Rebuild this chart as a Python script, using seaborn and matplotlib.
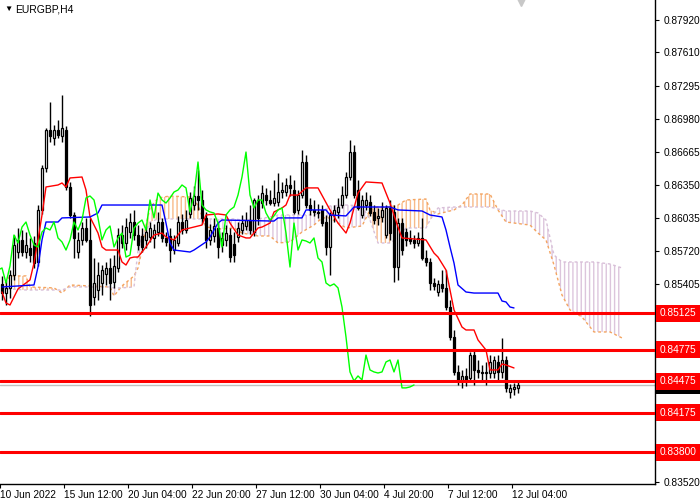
import numpy as np
import pandas as pd
import matplotlib
matplotlib.use("Agg")
import matplotlib.pyplot as plt
import seaborn as sns

symbol = "EURGBP,H4"

# H4 candles
opens = [0.85404, 0.85317, 0.85366, 0.85489, 0.85708, 0.85823, 0.85708, 0.85747, 0.85794, 0.85613,
         0.86109, 0.86509, 0.86871, 0.86795, 0.86871, 0.86814, 0.86871, 0.86328, 0.86061, 0.85708,
         0.85823, 0.85937, 0.85823, 0.85279, 0.85346, 0.85413, 0.85499, 0.85556, 0.85423, 0.85556,
         0.85870, 0.85794, 0.85899, 0.85994, 0.85870, 0.85861, 0.85823, 0.85851, 0.85842, 0.85899,
         0.85994, 0.85842, 0.85861, 0.85727, 0.85794, 0.85994, 0.85918, 0.86071, 0.86156, 0.86242,
         0.86204, 0.86033, 0.85823, 0.85861, 0.85937, 0.85775, 0.85823, 0.85870, 0.85785, 0.85851,
         0.85918, 0.85956, 0.86013, 0.85899, 0.86204, 0.86175, 0.86251, 0.86204, 0.86175, 0.86185,
         0.86280, 0.86280, 0.86347, 0.86299, 0.86109, 0.86251, 0.86566, 0.86156, 0.86109, 0.86090,
         0.86109, 0.85994, 0.85756, 0.86061, 0.86090, 0.86156, 0.86251, 0.86423, 0.86661, 0.86299,
         0.86061, 0.86156, 0.86185, 0.86090, 0.86033, 0.86042, 0.85870, 0.86128, 0.86090, 0.85565,
         0.85984, 0.85899, 0.85842, 0.85823, 0.85794, 0.85842, 0.85651, 0.85613, 0.85413, 0.85327,
         0.85404, 0.85366, 0.85184, 0.84898, 0.84565, 0.84479, 0.84527, 0.84508, 0.84726, 0.84584,
         0.84565, 0.84555, 0.84555, 0.84555, 0.84660, 0.84565, 0.84679, 0.84374, 0.84403, 0.84413]
highs = [0.85480, 0.85442, 0.85537, 0.85870, 0.85937, 0.85918, 0.85899, 0.85842, 0.85861, 0.86156,
         0.86537, 0.86890, 0.87138, 0.86918, 0.86966, 0.87205, 0.86909, 0.86376, 0.86090, 0.85899,
         0.85994, 0.86033, 0.86033, 0.85651, 0.85613, 0.85584, 0.85613, 0.85651, 0.85679, 0.85937,
         0.85965, 0.86033, 0.86080, 0.86109, 0.85965, 0.85937, 0.85956, 0.85994, 0.85975, 0.86090,
         0.86033, 0.85899, 0.85937, 0.85870, 0.86052, 0.86071, 0.86109, 0.86280, 0.86338, 0.86490,
         0.86299, 0.86090, 0.85975, 0.86033, 0.85994, 0.85899, 0.85965, 0.85937, 0.85899, 0.85994,
         0.86061, 0.86090, 0.86156, 0.86223, 0.86251, 0.86347, 0.86319, 0.86299, 0.86395, 0.86461,
         0.86376, 0.86414, 0.86442, 0.86395, 0.86299, 0.86680, 0.86632, 0.86223, 0.86204, 0.86166,
         0.86156, 0.86061, 0.86090, 0.86156, 0.86223, 0.86338, 0.86471, 0.86776, 0.86728, 0.86395,
         0.86251, 0.86280, 0.86251, 0.86156, 0.86128, 0.86185, 0.86156, 0.86204, 0.86156, 0.86033,
         0.86033, 0.85937, 0.85918, 0.85870, 0.85899, 0.86033, 0.85727, 0.85651, 0.85461, 0.85442,
         0.85537, 0.85537, 0.85251, 0.84965, 0.84631, 0.84584, 0.84603, 0.84755, 0.84774, 0.84679,
         0.84631, 0.84660, 0.84726, 0.84717, 0.84726, 0.84889, 0.84717, 0.84451, 0.84460, 0.84470]
lows = [0.85251, 0.85203, 0.85270, 0.85442, 0.85651, 0.85670, 0.85651, 0.85613, 0.85556, 0.85575,
        0.86071, 0.86471, 0.86757, 0.86728, 0.86795, 0.86757, 0.86299, 0.86033, 0.85651, 0.85651,
        0.85775, 0.85804, 0.85099, 0.85203, 0.85251, 0.85298, 0.85394, 0.85251, 0.85366, 0.85518,
        0.85747, 0.85727, 0.85842, 0.85823, 0.85727, 0.85708, 0.85747, 0.85804, 0.85747, 0.85861,
        0.85804, 0.85766, 0.85613, 0.85689, 0.85766, 0.85880, 0.85889, 0.86033, 0.86109, 0.86109,
        0.85975, 0.85747, 0.85775, 0.85804, 0.85651, 0.85708, 0.85766, 0.85613, 0.85613, 0.85804,
        0.85880, 0.85918, 0.85880, 0.85861, 0.85965, 0.86128, 0.86156, 0.86156, 0.86147, 0.86147,
        0.86223, 0.86242, 0.86242, 0.86071, 0.86071, 0.86223, 0.86128, 0.86061, 0.86052, 0.86033,
        0.85956, 0.85679, 0.85489, 0.85994, 0.86033, 0.86128, 0.86223, 0.86395, 0.86223, 0.86109,
        0.86033, 0.86109, 0.86052, 0.85975, 0.85965, 0.85994, 0.85842, 0.85823, 0.85423, 0.85442,
        0.85679, 0.85766, 0.85785, 0.85747, 0.85766, 0.85632, 0.85575, 0.85346, 0.85346, 0.85289,
        0.85327, 0.85156, 0.84870, 0.84536, 0.84441, 0.84413, 0.84432, 0.84470, 0.84441, 0.84508,
        0.84470, 0.84441, 0.84508, 0.84508, 0.84489, 0.84508, 0.84374, 0.84317, 0.84345, 0.84364]
closes = [0.85317, 0.85366, 0.85489, 0.85775, 0.85823, 0.85708, 0.85775, 0.85679, 0.85603, 0.86109,
          0.86509, 0.86871, 0.86814, 0.86871, 0.86823, 0.86890, 0.86328, 0.86061, 0.85842, 0.85823,
          0.85937, 0.85823, 0.85203, 0.85413, 0.85489, 0.85537, 0.85556, 0.85413, 0.85575, 0.85870,
          0.85794, 0.85946, 0.85994, 0.85870, 0.85775, 0.85756, 0.85899, 0.85937, 0.85918, 0.85994,
          0.85842, 0.85804, 0.85727, 0.85823, 0.85994, 0.85918, 0.86013, 0.86223, 0.86242, 0.86204,
          0.86033, 0.85823, 0.85918, 0.85956, 0.85756, 0.85842, 0.85889, 0.85660, 0.85679, 0.85937,
          0.85984, 0.86013, 0.85918, 0.86204, 0.86033, 0.86270, 0.86204, 0.86175, 0.86223, 0.86280,
          0.86299, 0.86347, 0.86319, 0.86090, 0.86251, 0.86566, 0.86156, 0.86109, 0.86090, 0.86080,
          0.85984, 0.85756, 0.86061, 0.86109, 0.86137, 0.86251, 0.86423, 0.86661, 0.86251, 0.86128,
          0.86204, 0.86204, 0.86080, 0.86013, 0.86052, 0.86109, 0.86128, 0.85889, 0.85565, 0.85984,
          0.85727, 0.85823, 0.85813, 0.85794, 0.85842, 0.85651, 0.85613, 0.85413, 0.85385, 0.85404,
          0.85366, 0.85184, 0.84898, 0.84565, 0.84479, 0.84527, 0.84489, 0.84726, 0.84584, 0.84565,
          0.84555, 0.84565, 0.84660, 0.84679, 0.84565, 0.84679, 0.84413, 0.84413, 0.84422, 0.84441]

# Ichimoku lines (vertices, x in bars)
tenkan_bar = [0, 1, 2, 4, 7, 8, 9, 10, 11, 14, 15, 16, 17, 20, 21, 22, 24, 25, 26, 29,
              30, 31, 32, 33, 34, 36, 38, 40, 41, 43, 45, 47, 50, 51, 54, 56, 57, 59, 61, 62,
              64, 65, 67, 68, 70, 71, 72, 74, 76, 79, 82, 84, 86, 87, 89, 91, 95, 96, 97, 99,
              100, 106, 108, 109, 111, 112, 113, 115, 116, 118, 119, 121, 122, 124, 125, 126, 128]
tenkan_val = [0.85327, 0.85222, 0.85203, 0.85356, 0.85442, 0.85603, 0.85823, 0.86061, 0.86328, 0.86347,
              0.86366, 0.86328, 0.86414, 0.86423, 0.86299, 0.86042, 0.85889, 0.85756, 0.85727, 0.85727,
              0.85613, 0.85584, 0.85651, 0.85660, 0.85660, 0.85756, 0.85870, 0.85889, 0.85851, 0.85823,
              0.85918, 0.85937, 0.85965, 0.86061, 0.86071, 0.86061, 0.85984, 0.85870, 0.85842, 0.85842,
              0.85937, 0.85946, 0.85984, 0.86090, 0.86128, 0.86156, 0.86251, 0.86251, 0.86319, 0.86319,
              0.86109, 0.85984, 0.85889, 0.85984, 0.86270, 0.86376, 0.86366, 0.86270, 0.86175, 0.85946,
              0.85842, 0.85823, 0.85698, 0.85660, 0.85537, 0.85346, 0.85156, 0.84993, 0.84965, 0.84965,
              0.84870, 0.84774, 0.84584, 0.84584, 0.84641, 0.84631, 0.84603]
kijun_bar = [0, 8, 9, 10, 11, 14, 15, 22, 24, 25, 40, 41, 42, 43, 47, 48, 51, 52, 54, 55,
             68, 69, 75, 76, 81, 82, 86, 88, 97, 99, 105, 107, 110, 111, 112, 113, 114, 116, 118, 124,
             125, 126, 127, 128]
kijun_val = [0.85375, 0.85394, 0.85565, 0.85823, 0.85994, 0.85994, 0.86033, 0.86042, 0.86080, 0.86156,
             0.86156, 0.85984, 0.85794, 0.85727, 0.85708, 0.85727, 0.85804, 0.85851, 0.85984, 0.86013,
             0.86003, 0.86033, 0.86033, 0.86109, 0.86109, 0.86061, 0.86052, 0.86137, 0.86137, 0.86109,
             0.86099, 0.86061, 0.86042, 0.85918, 0.85756, 0.85603, 0.85394, 0.85327, 0.85317, 0.85317,
             0.85241, 0.85232, 0.85184, 0.85175]
cloud_bar = [0, 2, 6, 7, 13, 15, 17, 27, 28, 30, 33, 34, 35, 36, 37, 39, 42, 47, 49, 51,
             55, 58, 60, 64, 67, 69, 72, 75, 78, 80, 82, 86, 90, 92, 94, 97, 99, 101, 106, 107,
             109, 113, 115, 117, 122, 124, 126, 132, 134, 136, 138, 140, 142, 145, 148, 152, 155]
span_a = [0.85366, 0.85480, 0.85480, 0.85375, 0.85366, 0.85317, 0.85394, 0.85375, 0.85289, 0.85385,
          0.85480, 0.85556, 0.85727, 0.85965, 0.86128, 0.86223, 0.86242, 0.86232, 0.86156, 0.85946,
          0.85927, 0.85937, 0.85889, 0.85861, 0.85861, 0.85794, 0.85804, 0.85899, 0.85965, 0.86033,
          0.86033, 0.85937, 0.85956, 0.86109, 0.86137, 0.86137, 0.86156, 0.86204, 0.86213, 0.86109,
          0.86071, 0.86109, 0.86156, 0.86261, 0.86261, 0.86109, 0.85994, 0.85965, 0.85889, 0.85823,
          0.85584, 0.85298, 0.85156, 0.85089, 0.84946, 0.84946, 0.84889]
span_b = [0.85366, 0.85356, 0.85346, 0.85346, 0.85346, 0.85346, 0.85375, 0.85375, 0.85366, 0.85366,
          0.85375, 0.85727, 0.85870, 0.85899, 0.85994, 0.86023, 0.86023, 0.86023, 0.86023, 0.86023,
          0.86023, 0.86023, 0.86013, 0.86023, 0.86042, 0.86061, 0.86061, 0.86061, 0.86061, 0.86090,
          0.86147, 0.86156, 0.86147, 0.86013, 0.85794, 0.85794, 0.85842, 0.85937, 0.85937, 0.86013,
          0.86128, 0.86137, 0.86137, 0.86137, 0.86137, 0.86118, 0.86099, 0.86099, 0.86080, 0.86013,
          0.85679, 0.85613, 0.85613, 0.85613, 0.85613, 0.85594, 0.85556]

levels = [0.85125, 0.84775, 0.84475, 0.84175, 0.83800]
price_ticks = [0.87920, 0.87610, 0.87295, 0.86980, 0.86665, 0.86350, 0.86035, 0.85720,
               0.85405, 0.85090, 0.84460, 0.84145, 0.83835, 0.83520]
date_ticks = [-0.5, 15.5, 31.5, 47.5, 63.5, 79.5, 95.5, 111.5, 127.5]
date_labels = ["10 Jun 2022", "15 Jun 12:00", "20 Jun 04:00", "22 Jun 20:00", "27 Jun 12:00",
               "30 Jun 04:00", "4 Jul 20:00", "7 Jul 12:00", "12 Jul 04:00"]

df = pd.DataFrame(dict(open=opens, high=highs, low=lows, close=closes))
df["bar"] = np.arange(len(df))
df["chikou_bar"] = df["bar"] - 26
up = df["close"] >= df["open"]

sns.set_theme(style="white")
plt.rcParams['font.family'] = ['Liberation Sans', 'DejaVu Sans']

fig = plt.figure(figsize=(7, 5), dpi=100)
ax = fig.add_axes([0, 16 / 500, 655 / 700, 484 / 500])
ax.set_facecolor("white")

# kumo
a = np.array(span_a)
b = np.array(span_b)
ax.fill_between(cloud_bar, a, b, where=a >= b, interpolate=True, facecolor="none",
                edgecolor=(0.96, 0.64, 0.38, 0.75), hatch="||||", linewidth=0, zorder=1)
ax.fill_between(cloud_bar, a, b, where=a < b, interpolate=True, facecolor="none",
                edgecolor=(0.85, 0.75, 0.85, 0.9), hatch="||||", linewidth=0, zorder=1)
ax.plot(cloud_bar, span_a, color="sandybrown", ls=(0, (2, 2)), lw=1, zorder=1.5)
ax.plot(cloud_bar, span_b, color="thistle", ls=(0, (2, 2)), lw=1, zorder=1.5)

# candles
ax.vlines(df["bar"], df["low"], df["high"], color="black", lw=1, zorder=3)
ax.bar(df["bar"][up], (df["close"] - df["open"])[up], bottom=df["open"][up], width=0.72,
       color="white", edgecolor="black", linewidth=0.9, zorder=4)
ax.bar(df["bar"][~up], (df["open"] - df["close"])[~up], bottom=df["close"][~up], width=0.72,
       color="black", edgecolor="black", linewidth=0.9, zorder=4)

sns.lineplot(x=tenkan_bar, y=tenkan_val, color="red", lw=1, ax=ax, zorder=5)
sns.lineplot(x=kijun_bar, y=kijun_val, color="blue", lw=1, ax=ax, zorder=5)
sns.lineplot(data=df, x="chikou_bar", y="close", color="#00ff00", lw=1, ax=ax, zorder=5)

# levels
last_price = closes[-1]
ax.axhline(last_price, color="#c0c0c0", lw=1, zorder=2)
ax.text(1.0 + 5 / 655, last_price, f"{last_price:.5f}", transform=ax.get_yaxis_transform(),
        ha="left", va="center", color="white", fontsize=7.3, clip_on=False, zorder=9,
        bbox=dict(boxstyle="square,pad=0.35", fc="black", ec="none"))
for lvl in levels:
    ax.axhline(lvl, color="red", lw=2.2, zorder=6)
    ax.text(1.0 + 5 / 655, lvl, f"{lvl:.5f}", transform=ax.get_yaxis_transform(),
            ha="left", va="center", color="white", fontsize=7.3, clip_on=False, zorder=10,
            bbox=dict(boxstyle="square,pad=0.35", fc="red", ec="none"))

ax.set_xlim(-0.5, 163.25)
ax.set_ylim(0.83497, 0.88110)
ax.yaxis.tick_right()
ax.set_yticks(price_ticks)
ax.set_yticklabels([f"{t:.5f}" for t in price_ticks])
ax.set_xticks(date_ticks)
ax.set_xticklabels(date_labels)
for lbl in ax.get_xticklabels():
    lbl.set_horizontalalignment("left")
ax.tick_params(axis="y", direction="out", length=3, width=0.8, labelsize=7.3, pad=3,
               colors="black", right=True, left=False)
ax.tick_params(axis="x", direction="out", length=3, width=0.8, labelsize=7.3, pad=1,
               colors="black", bottom=True)
ax.set_xlabel("")
ax.set_ylabel("")
for side in ["left", "top"]:
    ax.spines[side].set_visible(False)
for side in ["right", "bottom"]:
    ax.spines[side].set_color("black")
    ax.spines[side].set_linewidth(1)

# chart shift marker
ax.plot([129.75], [0.88110], marker="v", color="#c8c8c8", ms=9, clip_on=False, zorder=8)

fig.text(4 / 700, 1 - 9 / 500, "\u25bc", fontsize=6, va="center", ha="left", color="black")
fig.text(15 / 700, 1 - 9 / 500, symbol, fontsize=7.5, va="center", ha="left", color="black")

fig.savefig("out.png", dpi=100)
